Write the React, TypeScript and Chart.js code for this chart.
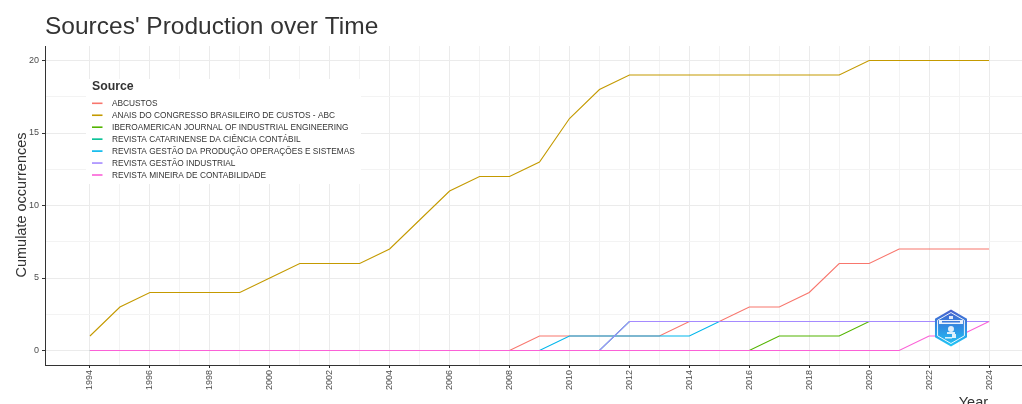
import React, { useEffect, useRef } from "react";
import { Chart, registerables } from "chart.js";

Chart.register(...registerables);

const years = [1994, 1995, 1996, 1997, 1998, 1999, 2000, 2001, 2002, 2003, 2004, 2005, 2006, 2007, 2008, 2009, 2010, 2011, 2012, 2013, 2014, 2015, 2016, 2017, 2018, 2019, 2020, 2021, 2022, 2023, 2024];

const sourceNames = [
  "ABCUSTOS",
  "ANAIS DO CONGRESSO BRASILEIRO DE CUSTOS - ABC",
  "IBEROAMERICAN JOURNAL OF INDUSTRIAL ENGINEERING",
  "REVISTA CATARINENSE DA CIÊNCIA CONTÁBIL",
  "REVISTA GESTÃO DA PRODUÇÃO OPERAÇÕES E SISTEMAS",
  "REVISTA GESTÃO INDUSTRIAL",
  "REVISTA MINEIRA DE CONTABILIDADE",
];

const abcustos = [0, 0, 0, 0, 0, 0, 0, 0, 0, 0, 0, 0, 0, 0, 0, 1, 1, 1, 1, 1, 2, 2, 3, 3, 4, 6, 6, 7, 7, 7, 7];
const anais = [1, 3, 4, 4, 4, 4, 5, 6, 6, 6, 7, 9, 11, 12, 12, 13, 16, 18, 19, 19, 19, 19, 19, 19, 19, 19, 20, 20, 20, 20, 20];
const iberoamerican = [0, 0, 0, 0, 0, 0, 0, 0, 0, 0, 0, 0, 0, 0, 0, 0, 0, 0, 0, 0, 0, 0, 0, 1, 1, 1, 2, 2, 2, 2, 2];
const catarinense = [0, 0, 0, 0, 0, 0, 0, 0, 0, 0, 0, 0, 0, 0, 0, 0, 0, 0, 2, 2, 2, 2, 2, 2, 2, 2, 2, 2, 2, 2, 2];
const gestaoProducao = [0, 0, 0, 0, 0, 0, 0, 0, 0, 0, 0, 0, 0, 0, 0, 0, 1, 1, 1, 1, 1, 2, 2, 2, 2, 2, 2, 2, 2, 2, 2];
const gestaoIndustrial = [0, 0, 0, 0, 0, 0, 0, 0, 0, 0, 0, 0, 0, 0, 0, 0, 0, 0, 2, 2, 2, 2, 2, 2, 2, 2, 2, 2, 2, 2, 2];
const mineira = [0, 0, 0, 0, 0, 0, 0, 0, 0, 0, 0, 0, 0, 0, 0, 0, 0, 0, 0, 0, 0, 0, 0, 0, 0, 0, 0, 0, 1, 1, 2];

const seriesValues = [abcustos, anais, iberoamerican, catarinense, gestaoProducao, gestaoIndustrial, mineira];
const seriesColors = ["#F8766D", "#C49A00", "#53B400", "#00C094", "#00B6EB", "#A58AFF", "#FB61D7"];

const yTickValues = [0, 2.5, 5, 7.5, 10, 12.5, 15, 17.5, 20];

const titleText = "Sources' Production over Time";
const yTitleText = "Cumulate occurrences";
const xTitleText = "Year";
const legendTitle = "Source";

const FONT = "'Liberation Sans', Arial, Helvetica, sans-serif";
const W = 1040;
const H = 404;

const decorPlugin = {
  id: "decor",
  beforeDatasetsDraw(chart: any) {
    const ctx = chart.ctx;
    ctx.save();
    ctx.fillStyle = "#ffffff";
    ctx.fillRect(86, 79, 275, 105);
    ctx.fillStyle = "#333333";
    ctx.font = `bold 12.3px ${FONT}`;
    ctx.textBaseline = "alphabetic";
    ctx.textAlign = "left";
    ctx.fillText(legendTitle, 92, 89.5);
    ctx.font = `8.3px ${FONT}`;
    ctx.textBaseline = "middle";
    sourceNames.forEach((name, i) => {
      const y = 103.3 + i * 11.95;
      ctx.strokeStyle = seriesColors[i];
      ctx.lineWidth = 1.6;
      ctx.beginPath();
      ctx.moveTo(92, y);
      ctx.lineTo(102.5, y);
      ctx.stroke();
      ctx.fillStyle = "#333333";
      ctx.fillText(name, 112, y + 0.5);
    });
    ctx.restore();
  },
  afterDatasetsDraw(chart: any) {
    const ctx = chart.ctx;
    const xs = chart.scales.x;
    const ys = chart.scales.y;
    const cx = xs.getPixelForValue(2022.73);
    const cy = ys.getPixelForValue(1.55);
    const r = 18.5;
    const hex = (rad: number) => {
      ctx.beginPath();
      for (let k = 0; k < 6; k++) {
        const a = -Math.PI / 2 + (k * Math.PI) / 3;
        const px = cx + rad * Math.cos(a);
        const py = cy + rad * Math.sin(a);
        if (k === 0) ctx.moveTo(px, py);
        else ctx.lineTo(px, py);
      }
      ctx.closePath();
    };
    ctx.save();
    const g = ctx.createLinearGradient(cx, cy - r, cx, cy + r);
    g.addColorStop(0, "#4a5fcc");
    g.addColorStop(0.5, "#2f8fe3");
    g.addColorStop(1, "#22c7f5");
    hex(r);
    ctx.fillStyle = g;
    ctx.fill();
    hex(r - 3);
    ctx.strokeStyle = "rgba(255,255,255,0.9)";
    ctx.lineWidth = 1;
    ctx.stroke();
    ctx.fillStyle = "rgba(255,255,255,0.9)";
    ctx.fillRect(cx - 12, cy - 8, 24, 4);
    ctx.fillStyle = "#3a78dc";
    ctx.fillRect(cx - 9, cy - 7, 18, 1.5);
    ctx.fillStyle = "rgba(255,255,255,0.85)";
    ctx.fillRect(cx - 2, cy - 12, 4, 3);
    ctx.beginPath();
    ctx.arc(cx, cy + 1, 3, 0, Math.PI * 2);
    ctx.fill();
    ctx.fillRect(cx - 4, cy + 4, 8, 2);
    ctx.fillRect(cx + 1, cy + 6, 4, 4);
    ctx.fillRect(cx - 6, cy + 9, 7, 1.5);
    ctx.restore();
  },
  afterDraw(chart: any) {
    const ctx = chart.ctx;
    const xs = chart.scales.x;
    ctx.save();
    ctx.fillStyle = "#333333";
    ctx.textBaseline = "alphabetic";
    ctx.textAlign = "left";
    ctx.font = `24.5px ${FONT}`;
    ctx.fillText(titleText, 45, 34);
    ctx.font = `14.5px ${FONT}`;
    ctx.textAlign = "right";
    ctx.fillText(xTitleText, xs.getPixelForValue(2024) - 1, 406.5);
    ctx.translate(25.5, 205);
    ctx.rotate(-Math.PI / 2);
    ctx.textAlign = "center";
    ctx.fillText(yTitleText, 0, 0);
    ctx.restore();
  },
};

export default function App() {
  const canvasRef = useRef<HTMLCanvasElement | null>(null);

  useEffect(() => {
    const canvas = canvasRef.current;
    if (!canvas) return;
    // Chart.js draws dataset index 0 on top; ggplot draws the last level on top,
    // so the datasets are handed over in reverse order.
    const datasets = sourceNames
      .map((name, i) => ({
        label: name,
        data: years.map((yr, j) => ({ x: yr, y: seriesValues[i][j] })),
        borderColor: seriesColors[i],
        backgroundColor: seriesColors[i],
        borderWidth: 1.1,
        pointRadius: 0,
        pointHoverRadius: 0,
        tension: 0,
        fill: false,
      }))
      .reverse();

    const chart = new Chart(canvas, {
      type: "line",
      data: { datasets },
      options: {
        responsive: false,
        animation: false,
        devicePixelRatio: 1,
        layout: { padding: { left: 0, top: 46, right: W - 1034, bottom: 0 } },
        plugins: {
          legend: { display: false },
          title: { display: false },
          tooltip: { enabled: false },
        },
        scales: {
          x: {
            type: "linear",
            min: 1992.5,
            max: 2025.5,
            afterBuildTicks: (s: any) => {
              s.ticks = years.map((v) => ({ value: v }));
            },
            afterFit: (s: any) => {
              s.height = 39;
            },
            ticks: {
              autoSkip: false,
              minRotation: 90,
              maxRotation: 90,
              padding: 2,
              color: "#4d4d4d",
              font: { family: FONT, size: 9 },
              callback: (v: any) => (Number(v) % 2 === 0 ? String(v) : ""),
            },
            grid: {
              color: (c: any) => (c.tick && c.tick.value % 2 === 0 ? "#ebebeb" : "#f3f3f3"),
              tickColor: (c: any) => (c.tick && c.tick.value % 2 === 0 ? "#333333" : "rgba(0,0,0,0)"),
              tickLength: 3,
              lineWidth: 1,
            },
            border: { display: true, color: "#333333", width: 1 },
          },
          y: {
            type: "linear",
            min: -1,
            max: 21,
            afterBuildTicks: (s: any) => {
              s.ticks = yTickValues.map((v) => ({ value: v }));
            },
            afterFit: (s: any) => {
              s.width = 45;
            },
            ticks: {
              padding: 3,
              color: "#4d4d4d",
              font: { family: FONT, size: 9 },
              callback: (v: any) => (Number(v) % 5 === 0 ? String(v) : ""),
            },
            grid: {
              color: (c: any) => (c.tick && c.tick.value % 5 === 0 ? "#ebebeb" : "#f3f3f3"),
              tickColor: (c: any) => (c.tick && c.tick.value % 5 === 0 ? "#333333" : "rgba(0,0,0,0)"),
              tickLength: 3,
              lineWidth: 1,
            },
            border: { display: true, color: "#333333", width: 1 },
          },
        },
      },
      plugins: [decorPlugin],
    });
    return () => chart.destroy();
  }, []);

  return (
    <div style={{ position: "fixed", left: 0, top: 0, width: 1022, height: 404, overflow: "hidden", background: "#ffffff" }}>
      <canvas ref={canvasRef} width={W} height={H} style={{ display: "block", width: W, height: H }} />
    </div>
  );
}
